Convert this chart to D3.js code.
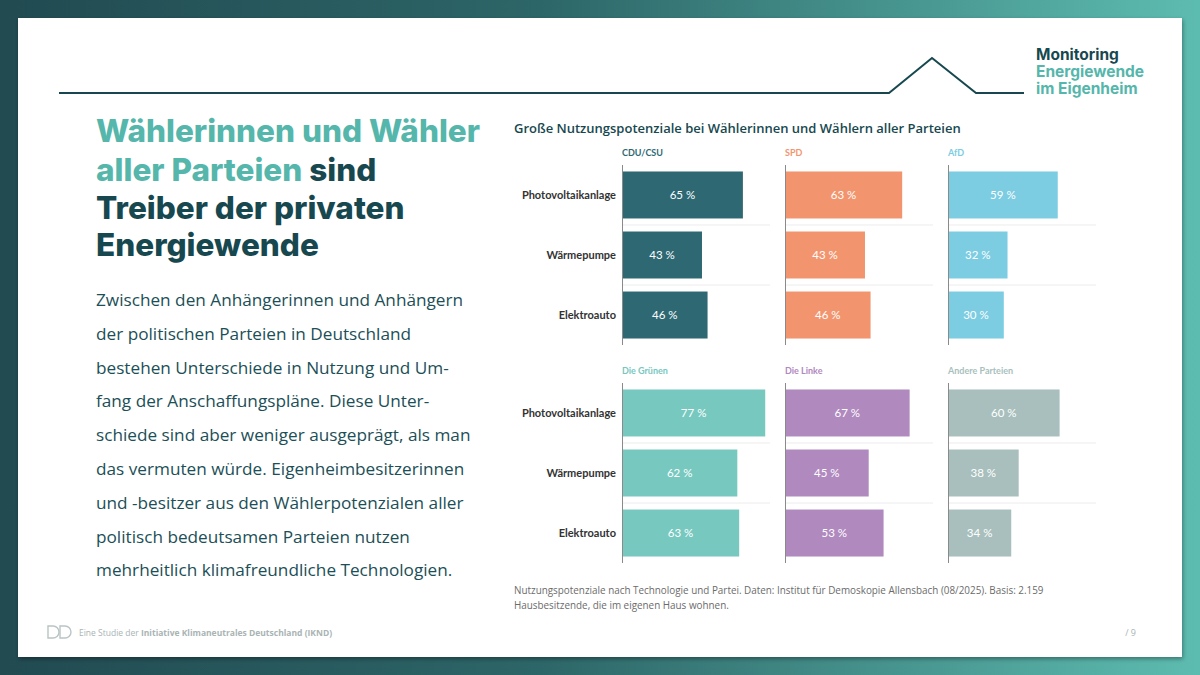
<!DOCTYPE html>
<html>
<head>
<meta charset="utf-8">
<script src="https://cdn.jsdelivr.net/npm/d3@7"></script>
<style>
  html, body { margin: 0; padding: 0; }
  body { width: 1200px; height: 675px; overflow: hidden; }
  svg { display: block; }
</style>
</head>
<body>
<svg id="slide" width="1200" height="675"></svg>
<script>
// Chart data
const technologies = ['Photovoltaikanlage', 'Wärmepumpe', 'Elektroauto'];
const parties = ['CDU/CSU', 'SPD', 'AfD', 'Die Grünen', 'Die Linke', 'Andere Parteien'];
const partyColors = ['#2e6873', '#f2956e', '#7ccce2', '#77c8bf', '#b089bf', '#a8bfbd'];
const cduValues = [65, 43, 46];
const spdValues = [63, 43, 46];
const afdValues = [59, 32, 30];
const grueneValues = [77, 62, 63];
const linkeValues = [67, 45, 53];
const andereValues = [60, 38, 34];
const partyValues = [cduValues, spdValues, afdValues, grueneValues, linkeValues, andereValues];

const headline = ['Wählerinnen und Wähler', 'aller Parteien', 'sind', 'Treiber der privaten', 'Energiewende'];
const bodyLines = [
  'Zwischen den Anhängerinnen und Anhängern',
  'der politischen Parteien in Deutschland',
  'bestehen Unterschiede in Nutzung und Um-',
  'fang der Anschaffungspläne. Diese Unter-',
  'schiede sind aber weniger ausgeprägt, als man',
  'das vermuten würde. Eigenheimbesitzerinnen',
  'und -besitzer aus den Wählerpotenzialen aller',
  'politisch bedeutsamen Parteien nutzen',
  'mehrheitlich klimafreundliche Technologien.'
];
const chartTitle = 'Große Nutzungspotenziale bei Wählerinnen und Wählern aller Parteien';
const captionLines = [
  'Nutzungspotenziale nach Technologie und Partei. Daten: Institut für Demoskopie Allensbach (08/2025). Basis: 2.159',
  'Hausbesitzende, die im eigenen Haus wohnen.'
];

const dark = '#17484f';
const teal = '#55b6ab';

const svg = d3.select('#slide');
const defs = svg.append('defs');

// background gradient
const grad = defs.append('linearGradient').attr('id', 'bg')
  .attr('x1', '0%').attr('x2', '100%').attr('y1', '0%').attr('y2', '0%');
grad.append('stop').attr('offset', '0%').attr('stop-color', '#214a51');
grad.append('stop').attr('offset', '45%').attr('stop-color', '#2d6668');
grad.append('stop').attr('offset', '100%').attr('stop-color', '#5dbcb0');

const shadow = defs.append('filter').attr('id', 'shadow')
  .attr('x', '-5%').attr('y', '-5%').attr('width', '110%').attr('height', '110%');
shadow.append('feDropShadow').attr('dx', 1).attr('dy', 2).attr('stdDeviation', 2)
  .attr('flood-color', '#000').attr('flood-opacity', 0.35);

svg.append('rect').attr('width', 1200).attr('height', 675).attr('fill', 'url(#bg)');
svg.append('rect').attr('x', 18).attr('y', 18).attr('width', 1164).attr('height', 639)
  .attr('fill', '#fff').attr('filter', 'url(#shadow)');

// header rule with the roof
const roof = [[59, 93], [889, 93], [932, 58], [976, 93], [1024, 93]];
svg.append('path')
  .attr('d', d3.line()(roof))
  .attr('fill', 'none').attr('stroke', dark).attr('stroke-width', 2);

const logo = svg.append('g').attr('font-family', 'Inter, sans-serif').attr('font-weight', 700)
  .attr('font-size', 15.5);
logo.append('text').attr('x', 1036).attr('y', 60).attr('fill', dark).text('Monitoring');
logo.append('text').attr('x', 1036).attr('y', 77).attr('fill', teal).text('Energiewende');
logo.append('text').attr('x', 1036).attr('y', 94).attr('fill', teal).text('im Eigenheim');

// left headline
const hl = svg.append('g').attr('font-family', 'Inter, sans-serif').attr('font-weight', 800)
  .attr('font-size', 31.5);
hl.append('text').attr('x', 96).attr('y', 142).attr('fill', teal).text(headline[0]);
const l2 = hl.append('text').attr('x', 96).attr('y', 181);
l2.append('tspan').attr('fill', teal).text(headline[1] + ' ');
l2.append('tspan').attr('fill', dark).text(headline[2]);
hl.append('text').attr('x', 96).attr('y', 219).attr('fill', dark).text(headline[3]);
hl.append('text').attr('x', 96).attr('y', 256).attr('fill', dark).text(headline[4]);

// body text
svg.append('g').attr('font-family', '"Open Sans", sans-serif').attr('font-size', 17.2)
  .attr('fill', '#1c4f57')
  .selectAll('text').data(bodyLines).join('text')
  .attr('x', 96).attr('y', (d, i) => 306 + i * 33.8).text(d => d);

// chart title
svg.append('text').attr('x', 514).attr('y', 133)
  .attr('font-family', '"Open Sans", sans-serif').attr('font-weight', 600).attr('font-size', 13)
  .attr('fill', dark).text(chartTitle);

// panels
const x = d3.scaleLinear().domain([0, 100]).range([0, 186]);
const y = d3.scaleBand().domain(technologies).range([0, 180])
  .paddingInner(0.217).paddingOuter(0.108);
const colX = d3.scaleBand().domain([0, 1, 2]).range([622, 622 + 163 * 3]);
const rowY = d3.scaleBand().domain([0, 1]).range([165, 165 + 218 * 2]);

parties.forEach((party, p) => {
  const col = p % 3, row = Math.floor(p / 3);
  const g = svg.append('g')
    .attr('transform', `translate(${colX(col)},${rowY(row)})`)
    .attr('font-family', 'Lato, sans-serif');
  const values = partyValues[p];

  g.append('text').attr('x', 0).attr('y', -9)
    .attr('font-size', 9).attr('font-weight', 700).attr('fill', partyColors[p])
    .text(party);

  // separators between categories
  g.selectAll('line.sep').data(technologies.slice(1)).join('line')
    .attr('class', 'sep')
    .attr('x1', 0).attr('x2', 148)
    .attr('y1', d => y(d) - y.step() * y.paddingInner() / 2)
    .attr('y2', d => y(d) - y.step() * y.paddingInner() / 2)
    .attr('stroke', '#ececec').attr('stroke-width', 1);

  g.selectAll('rect.bar').data(values).join('rect')
    .attr('class', 'bar')
    .attr('x', 0).attr('y', (d, i) => y(technologies[i]))
    .attr('width', d => x(d)).attr('height', y.bandwidth())
    .attr('fill', partyColors[p]);

  g.selectAll('text.val').data(values).join('text')
    .attr('class', 'val')
    .attr('x', d => x(d) / 2).attr('y', (d, i) => y(technologies[i]) + y.bandwidth() / 2)
    .attr('dy', '0.35em').attr('text-anchor', 'middle')
    .attr('font-size', 11.5).attr('fill', '#fff')
    .text(d => d + ' %');

  g.append('line').attr('x1', 0.5).attr('x2', 0.5).attr('y1', 0).attr('y2', 180)
    .attr('stroke', '#8a8a8a').attr('stroke-width', 1);

  if (col === 0) {
    g.selectAll('text.cat').data(technologies).join('text')
      .attr('class', 'cat')
      .attr('x', -6).attr('y', d => y(d) + y.bandwidth() / 2)
      .attr('dy', '0.35em').attr('text-anchor', 'end')
      .attr('font-size', 11).attr('font-weight', 700).attr('fill', '#333')
      .text(d => d);
  }
});

// caption
svg.append('g').attr('font-family', '"Open Sans", sans-serif').attr('font-size', 9.9)
  .attr('fill', '#6b6b6b')
  .selectAll('text').data(captionLines).join('text')
  .attr('x', 514).attr('y', (d, i) => 594 + i * 15).text(d => d);

// footer
const mark = svg.append('g').attr('fill', 'none').attr('stroke', '#b9c4c4').attr('stroke-width', 1.4);
mark.append('path').attr('d', 'M48,626 h5 a6,6 0 0 1 6,6 a6,6 0 0 1 -6,6 h-5 z');
mark.append('path').attr('d', 'M60,626 h5 a6,6 0 0 1 6,6 a6,6 0 0 1 -6,6 h-5 z');
const foot = svg.append('text').attr('x', 79).attr('y', 636)
  .attr('font-family', '"Open Sans", sans-serif').attr('font-size', 8.5).attr('fill', '#a9b4b4');
foot.append('tspan').text('Eine Studie der ');
foot.append('tspan').attr('font-weight', 700).text('Initiative Klimaneutrales Deutschland (IKND)');
svg.append('text').attr('x', 1136).attr('y', 636).attr('text-anchor', 'end')
  .attr('font-family', '"Open Sans", sans-serif').attr('font-size', 9).attr('fill', '#a9b4b4')
  .text('/ 9');
</script>
</body>
</html>
